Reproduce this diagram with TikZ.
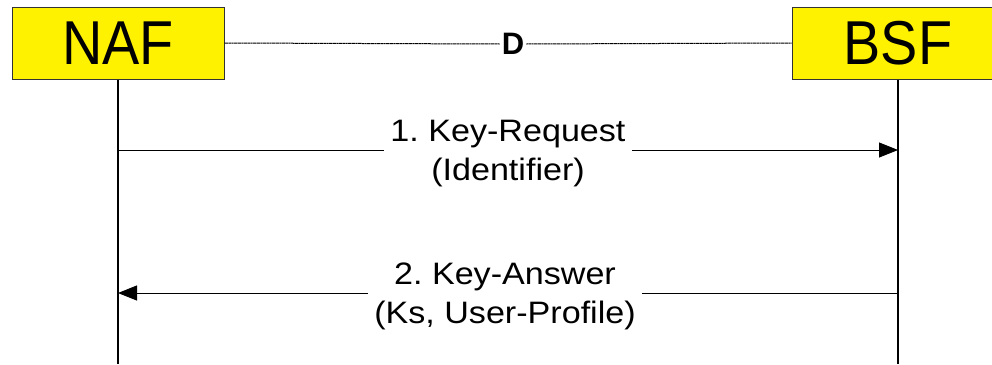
\documentclass[tikz,border=0pt]{standalone}
\usepackage{fontspec}
\setmainfont{Liberation Sans}
\newfontfamily\entfont[FakeStretch=0.9]{Liberation Sans}
\newfontfamily\msgfont[FakeStretch=1.1]{Liberation Sans}
\usetikzlibrary{arrows.meta}
\frenchspacing
\tikzset{
  entity/.style={draw=black!80, line width=1pt, fill=yellow, minimum width=212pt, minimum height=72pt, inner sep=0pt, font=\entfont\fontsize{62}{62}\selectfont},
  lifeline/.style={line width=1.4pt},
  msg/.style={line width=0.9pt, -{Triangle[length=19pt,width=15pt]}},
  msglabel/.style={fill=white, inner xsep=6pt, inner ysep=0pt, align=center, font=\msgfont\fontsize{31}{39}\selectfont},
  refline/.style={line width=1pt, dash pattern=on 1.5pt off 0.4pt},
}
\begin{document}
\begin{tikzpicture}[x=1pt,y=-1pt]
\useasboundingbox (0,0) rectangle (992,364);
\node[entity] (naf) at (118,43) {NAF};
\node[entity] (bsf) at (898,43) {BSF};
\coordinate (nafbot) at (118,364);
\coordinate (bsfbot) at (898,364);
\draw[lifeline] (naf.south) -- (nafbot);
\draw[lifeline] (bsf.south) -- (bsfbot);
\node[font=\bfseries\fontsize{31}{31}\selectfont, fill=white, inner sep=2pt] (d) at (513,44) {D};
\draw[refline] (naf.east) -- (d.west);
\draw[refline] (d.east) -- (bsf.west);
\coordinate (m1a) at (118,150);
\coordinate (m1b) at (898,150);
\draw[msg] (m1a) -- (m1b);
\node[msglabel] (l1) at (508,154) {1. Key-Request\\(Identifier)};
\coordinate (m2a) at (898,293);
\coordinate (m2b) at (118,293);
\draw[msg] (m2a) -- (m2b);
\node[msglabel] (l2) at (505,296) {2. Key-Answer\\(Ks, User-Profile)};
\end{tikzpicture}
\end{document}
